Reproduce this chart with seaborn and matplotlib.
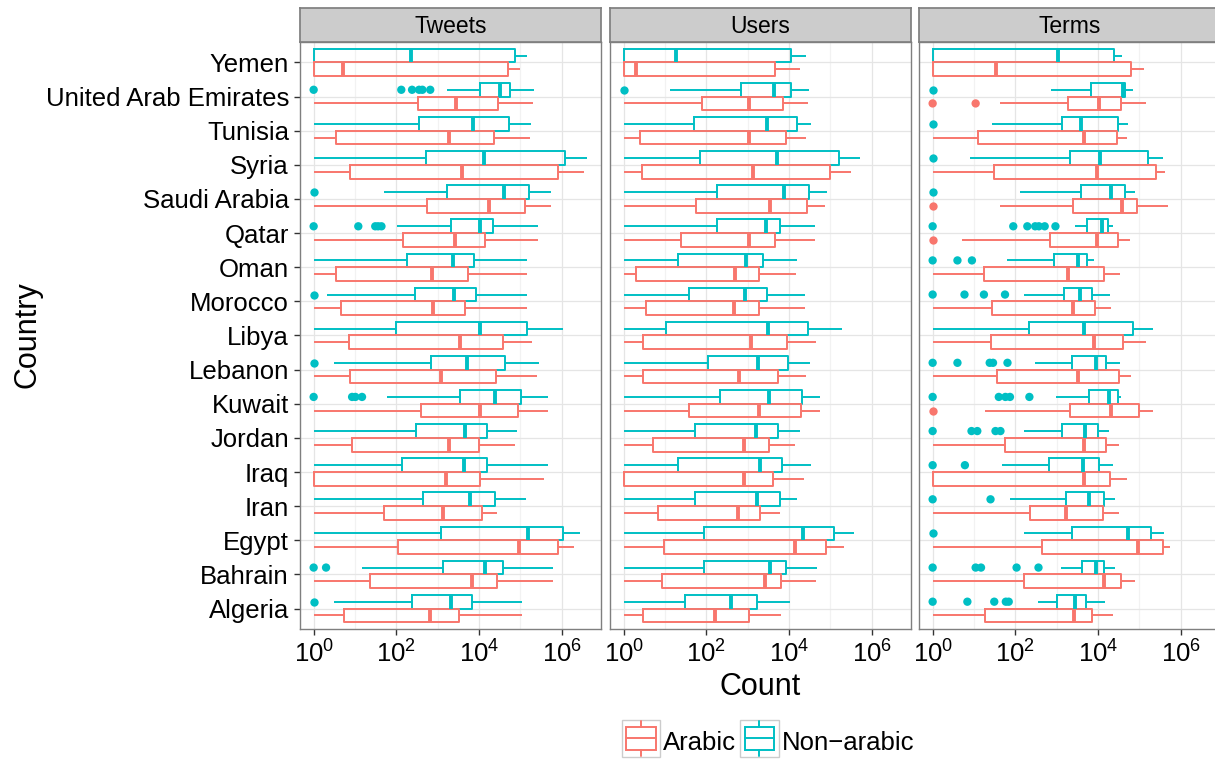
import numpy as np
import pandas as pd
import seaborn as sns
import matplotlib.pyplot as plt
from matplotlib.patches import Patch, Rectangle
from matplotlib.lines import Line2D
from matplotlib.legend_handler import HandlerBase
from matplotlib.ticker import NullFormatter

countries = ["Yemen", "United Arab Emirates", "Tunisia", "Syria", "Saudi Arabia",
             "Qatar", "Oman", "Morocco", "Libya", "Lebanon", "Kuwait", "Jordan",
             "Iraq", "Iran", "Egypt", "Bahrain", "Algeria"]
groups = ["Non-arabic", "Arabic"]
panels = ["Tweets", "Users", "Terms"]
colors = {"Arabic": "#F8766D", "Non-arabic": "#00BFC4"}

# whisker low, q1, median, q3, whisker high -- read as log10(count)
tweets_arabic = [
    [0, 0, 0.71, 4.70, 4.98], [0, 2.53, 3.45, 4.45, 5.31], [0, 0.55, 3.28, 4.35, 5.24],
    [0, 0.89, 3.59, 5.91, 6.55], [0, 2.73, 4.25, 5.12, 5.73], [0, 2.17, 3.43, 4.14, 5.42],
    [0, 0.55, 2.86, 3.74, 5.16], [0, 0.66, 2.88, 3.66, 5.15], [0, 0.85, 3.53, 4.57, 5.29],
    [0, 0.88, 3.07, 4.42, 5.41], [0, 2.60, 4.02, 4.95, 5.68], [0, 0.93, 3.27, 4.01, 4.87],
    [0, 0, 3.20, 4.03, 5.58], [0, 1.69, 3.14, 4.06, 4.43], [0, 2.04, 4.97, 5.92, 6.29],
    [0, 1.36, 3.82, 4.44, 5.78], [0, 0.73, 2.82, 3.52, 5.03]]
tweets_nonarabic = [
    [0, 0, 2.36, 4.88, 5.17], [3.22, 4.03, 4.51, 4.74, 5.33], [0, 2.56, 3.86, 4.72, 5.26],
    [0, 2.71, 4.11, 6.07, 6.62], [1.69, 3.22, 4.60, 5.20, 5.75], [2.01, 3.31, 4.02, 4.34, 5.43],
    [0, 2.26, 3.38, 3.89, 5.16], [0.32, 2.45, 3.39, 3.92, 5.15], [0, 1.99, 4.02, 5.16, 6.04],
    [0.49, 2.83, 3.70, 4.62, 5.44], [1.78, 3.53, 4.39, 5.02, 5.68], [0, 2.48, 3.65, 4.19, 4.91],
    [0, 2.14, 3.64, 4.20, 5.68], [0, 2.64, 3.79, 4.39, 5.13], [0, 3.08, 5.18, 6.03, 6.45],
    [1.18, 3.12, 4.14, 4.58, 5.79], [0.49, 2.38, 3.33, 3.82, 5.04]]
users_arabic = [
    [0, 0, 0.30, 3.67, 4.27], [0, 1.89, 3.02, 3.85, 4.47], [0, 0.40, 3.02, 3.93, 4.40],
    [0, 0.45, 3.14, 4.98, 5.51], [0, 1.76, 3.55, 4.44, 4.88], [0, 1.38, 3.02, 3.65, 4.63],
    [0, 0.31, 2.70, 3.28, 4.18], [0, 0.55, 2.67, 3.27, 4.39], [0, 0.48, 3.09, 3.96, 4.65],
    [0, 0.48, 2.79, 3.73, 4.42], [0, 1.58, 3.27, 4.28, 4.74], [0, 0.70, 2.91, 3.52, 4.15],
    [0, 0, 2.91, 3.61, 4.37], [0, 0.82, 2.76, 3.31, 3.77], [0, 0.98, 4.15, 4.90, 5.32],
    [0, 0.93, 3.41, 3.81, 4.65], [0, 0.48, 2.20, 3.02, 3.81]]
users_nonarabic = [
    [0, 0, 1.26, 4.05, 4.40], [1.12, 2.84, 3.63, 4.05, 4.48], [0, 1.70, 3.46, 4.20, 4.52],
    [0, 1.85, 3.72, 5.21, 5.71], [0, 2.26, 3.88, 4.49, 4.92], [0, 2.25, 3.44, 3.77, 4.64],
    [0, 1.31, 2.95, 3.36, 4.19], [0, 1.59, 2.94, 3.46, 4.39], [0, 1.02, 3.49, 4.46, 5.28],
    [0, 2.03, 3.25, 3.98, 4.51], [0, 2.33, 3.52, 4.31, 4.74], [0, 1.72, 3.19, 3.73, 4.26],
    [0, 1.32, 3.31, 3.84, 4.53], [0, 1.72, 3.22, 3.78, 4.20], [0, 1.94, 4.33, 5.09, 5.57],
    [0, 1.95, 3.54, 3.93, 4.67], [0, 1.49, 2.60, 3.23, 4.02]]
terms_arabic = [
    [0, 0, 1.54, 4.80, 5.12], [1.62, 3.27, 4.03, 4.55, 5.15], [0, 1.10, 3.66, 4.45, 4.69],
    [0, 1.48, 3.98, 5.41, 5.61], [1.63, 3.40, 4.58, 4.94, 5.70], [0.71, 2.85, 3.98, 4.48, 4.78],
    [0, 1.24, 3.27, 4.15, 4.52], [0, 1.44, 3.40, 3.93, 4.32], [0, 1.40, 3.90, 4.60, 5.15],
    [0, 1.56, 3.52, 4.50, 4.80], [1.26, 3.31, 4.32, 4.98, 5.33], [0, 1.75, 3.66, 4.20, 4.50],
    [0, 0, 3.66, 4.28, 4.71], [0, 2.36, 3.23, 4.13, 4.51], [0, 2.65, 4.96, 5.56, 5.74],
    [0, 2.22, 4.15, 4.56, 4.90], [0, 1.27, 3.41, 3.85, 4.35]]
terms_nonarabic = [
    [0, 0, 3.04, 4.38, 4.59], [2.86, 3.84, 4.60, 4.65, 4.84], [1.44, 3.14, 3.60, 4.48, 4.72],
    [0.91, 3.31, 4.05, 5.20, 5.56], [2.12, 3.60, 4.31, 4.65, 4.90], [3.45, 3.73, 4.10, 4.23, 4.37],
    [1.81, 2.93, 3.52, 3.74, 3.91], [2.20, 3.18, 3.57, 3.86, 4.29], [0, 2.32, 3.66, 4.85, 5.33],
    [2.47, 3.36, 3.94, 4.19, 4.52], [2.98, 3.79, 4.27, 4.48, 4.56], [2.20, 3.14, 3.69, 3.99, 4.26],
    [1.68, 2.81, 3.64, 4.02, 4.37], [1.87, 3.23, 3.79, 4.15, 4.41], [2.21, 3.36, 4.73, 5.27, 5.60],
    [3.10, 3.62, 3.94, 4.15, 4.42], [2.56, 3.01, 3.44, 3.71, 4.17]]

# outlying points, log10(count)
tweets_nonarabic_out = {
    "United Arab Emirates": [0, 2.12, 2.38, 2.55, 2.63, 2.82], "Saudi Arabia": [0],
    "Qatar": [0, 1.08, 1.49, 1.56, 1.64], "Morocco": [0], "Lebanon": [0],
    "Kuwait": [0, 0.93, 1.01, 1.17], "Bahrain": [0, 0.30], "Algeria": [0]}
users_nonarabic_out = {"United Arab Emirates": [0]}
terms_arabic_out = {"United Arab Emirates": [0, 1.04], "Saudi Arabia": [0],
                    "Qatar": [0], "Kuwait": [0]}
terms_nonarabic_out = {
    "United Arab Emirates": [0], "Tunisia": [0], "Syria": [0], "Saudi Arabia": [0],
    "Qatar": [0, 1.95, 2.29, 2.48, 2.57, 2.71, 2.97], "Oman": [0, 0.60, 0.95],
    "Morocco": [0, 0.77, 1.24, 1.75], "Lebanon": [0, 0.60, 1.38, 1.46, 1.81],
    "Kuwait": [0, 1.60, 1.76, 1.87, 2.34], "Jordan": [0, 0.94, 1.08, 1.52, 1.64],
    "Iraq": [0, 0.78], "Iran": [0, 1.40], "Egypt": [0],
    "Bahrain": [0, 1.04, 1.17, 2.03, 2.56], "Algeria": [0, 0.84, 1.49, 1.77, 1.84]}

summaries = {
    ("Tweets", "Arabic"): tweets_arabic, ("Tweets", "Non-arabic"): tweets_nonarabic,
    ("Users", "Arabic"): users_arabic, ("Users", "Non-arabic"): users_nonarabic,
    ("Terms", "Arabic"): terms_arabic, ("Terms", "Non-arabic"): terms_nonarabic,
}
outliers = {
    ("Tweets", "Non-arabic"): tweets_nonarabic_out, ("Users", "Non-arabic"): users_nonarabic_out,
    ("Terms", "Arabic"): terms_arabic_out, ("Terms", "Non-arabic"): terms_nonarabic_out,
}

rows = []
for (panel, group), table in summaries.items():
    for country, five in zip(countries, table):
        for v in five:
            rows.append((panel, group, country, 10 ** v))
box_df = pd.DataFrame(rows, columns=["panel", "group", "country", "count"])

rows = []
for (panel, group), pts in outliers.items():
    for country, vals in pts.items():
        for v in vals:
            rows.append((panel, group, country, 10 ** v))
out_df = pd.DataFrame(rows, columns=["panel", "group", "country", "count"])

sns.set_theme(style="white")
plt.rcParams["font.family"] = ["Liberation Sans", "DejaVu Sans"]
plt.rcParams["mathtext.fontset"] = "custom"
plt.rcParams["mathtext.rm"] = "Liberation Sans"
plt.rcParams["mathtext.it"] = "Liberation Sans:italic"
plt.rcParams["text.color"] = "black"


class BoxKey(HandlerBase):
    def create_artists(self, legend, orig_handle, x0, y0, width, height, fontsize, trans):
        c = orig_handle.get_edgecolor()
        bg = Rectangle((x0, y0 - 0.4 * height), width, 1.8 * height, facecolor="white",
                       edgecolor="#cccccc", lw=1.0, transform=trans)
        box = Rectangle((x0 + 0.12 * width, y0 - 0.05 * height), 0.76 * width, 1.1 * height,
                        facecolor="white", edgecolor=c, lw=1.4, transform=trans)
        xc = x0 + width / 2
        med = Line2D([x0 + 0.12 * width, x0 + 0.88 * width], [y0 + 0.5 * height] * 2,
                     color=c, lw=1.4, transform=trans)
        w1 = Line2D([xc, xc], [y0 + 1.05 * height, y0 + 1.35 * height], color=c, lw=1.4, transform=trans)
        w2 = Line2D([xc, xc], [y0 - 0.35 * height, y0 - 0.05 * height], color=c, lw=1.4, transform=trans)
        return [bg, box, med, w1, w2]


W, H = 1215, 761
fig = plt.figure(figsize=(W / 100, H / 100), dpi=100)
lefts = [300, 610, 919]

for i, panel in enumerate(panels):
    ax = fig.add_axes([lefts[i] / W, 1 - 629 / H, 301 / W, (629 - 42) / H])
    sns.boxplot(data=box_df[box_df["panel"] == panel], x="count", y="country", hue="group",
                order=countries, hue_order=groups, palette=colors, fill=False,
                whis=(0, 100), showfliers=False, showcaps=False, log_scale=True,
                width=0.8, linewidth=1.4, medianprops={"linewidth": 2.8},
                legend=False, ax=ax)
    pts = out_df[out_df["panel"] == panel]
    sns.stripplot(data=pts, x="count", y="country", hue="group", order=countries,
                  hue_order=groups, palette=colors, dodge=True, jitter=False,
                  size=6, linewidth=0, log_scale=True, legend=False, ax=ax)

    ax.set_xlim(10 ** -0.33, 10 ** 6.95)
    ax.set_ylim(len(countries) - 0.4, -0.6)
    ax.set_xticks([1, 1e2, 1e4, 1e6], labels=[r"$10^{0}$", r"$10^{2}$", r"$10^{4}$", r"$10^{6}$"])
    ax.set_xticks([1e1, 1e3, 1e5], minor=True)
    ax.xaxis.set_minor_formatter(NullFormatter())
    ax.grid(True, which="major", color="#e5e5e5", linewidth=0.9)
    ax.grid(True, which="minor", axis="x", color="#f2f2f2", linewidth=0.9)
    ax.set_axisbelow(True)
    ax.tick_params(axis="x", which="minor", length=0)
    ax.tick_params(axis="both", which="major", length=4, width=1, color="#333333",
                   labelsize=18.5, labelcolor="black", pad=4, bottom=True, left=True)
    if i > 0:
        ax.tick_params(axis="y", left=False, labelleft=False)
    ax.set_xlabel("")
    ax.set_ylabel("")
    for s in ax.spines.values():
        s.set_color("#7f7f7f")
        s.set_linewidth(1)

    sax = fig.add_axes([lefts[i] / W, 1 - 42 / H, 301 / W, 34 / H])
    sax.set_facecolor("#cccccc")
    sax.set_xticks([])
    sax.set_yticks([])
    for s in sax.spines.values():
        s.set_color("#7f7f7f")
    sax.text(0.5, 0.45, panel, ha="center", va="center", fontsize=16.5, color="black",
             transform=sax.transAxes)

fig.text(28 / W, 1 - 335 / H, "Country", rotation=90, ha="center", va="center", fontsize=22)
fig.text(760 / W, 1 - 687 / H, "Count", ha="center", va="center", fontsize=22)

handles = [Patch(facecolor="white", edgecolor=colors["Arabic"]),
           Patch(facecolor="white", edgecolor=colors["Non-arabic"])]
fig.legend(handles, ["Arabic", "Non\u2212arabic"], handler_map={Patch: BoxKey()},
           loc="center", bbox_to_anchor=(768 / W, 1 - 743 / H), ncol=2, frameon=False,
           fontsize=18.5, handlelength=1.5, handleheight=0.85, handletextpad=0.12,
           columnspacing=0.15)

fig.savefig("out.png", dpi=100)
